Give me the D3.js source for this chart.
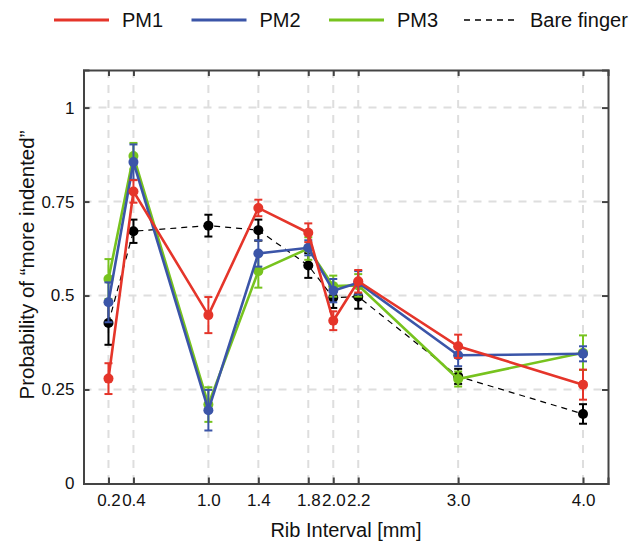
<!DOCTYPE html>
<html>
<head>
<meta charset="utf-8">
<script src="https://cdn.jsdelivr.net/npm/d3@7"></script>
<style>
  body { margin: 0; background: #fff; }
  svg text { font-family: "Liberation Sans", Arial, sans-serif; fill: #111; }
</style>
</head>
<body>
<div id="chart"></div>
<script>
// rib intervals (mm)
const ribs = [0.2, 0.4, 1.0, 1.4, 1.8, 2.0, 2.2, 3.0, 4.0];
const xTickLabels = ["0.2", "0.4", "1.0", "1.4", "1.8", "2.0", "2.2", "3.0", "4.0"];
const yTicks = [0, 0.25, 0.5, 0.75, 1];
const yTickLabels = ["0", "0.25", "0.5", "0.75", "1"];

// probability of "more indented" and error (half-length of bars)
const pm1 = [0.279, 0.777, 0.448, 0.733, 0.667, 0.433, 0.538, 0.365, 0.263];
const pm1Err = [0.041, 0.03, 0.048, 0.022, 0.025, 0.025, 0.03, 0.031, 0.04];
const pm2 = [0.482, 0.855, 0.195, 0.612, 0.627, 0.513, 0.534, 0.341, 0.345];
const pm2Err = [0.053, 0.047, 0.054, 0.035, 0.02, 0.031, 0.031, 0.029, 0.02];
const pm3 = [0.544, 0.871, 0.21, 0.565, 0.625, 0.525, 0.527, 0.278, 0.348];
const pm3Err = [0.053, 0.035, 0.046, 0.044, 0.03, 0.028, 0.03, 0.02, 0.046];
const bare = [0.427, 0.671, 0.686, 0.674, 0.58, 0.494, 0.497, 0.285, 0.185];
const bareErr = [0.058, 0.031, 0.029, 0.028, 0.033, 0.027, 0.032, 0.02, 0.026];

const seriesNames = ["PM1", "PM2", "PM3", "Bare finger"];
const seriesColors = ["#e5352a", "#3b55a8", "#77c31e", "#000000"];

const width = 634, height = 541;
const margin = {top: 70, right: 26, bottom: 57.5, left: 83.5};
const innerW = width - margin.left - margin.right;
const innerH = height - margin.top - margin.bottom;

const svg = d3.select("#chart").append("svg")
    .attr("width", width)
    .attr("height", height);

const g = svg.append("g")
    .attr("transform", "translate(" + margin.left + "," + margin.top + ")");

const x = d3.scaleLinear().domain([0, 4.2]).range([0, innerW]);
const y = d3.scaleLinear().domain([0, 1.1]).range([innerH, 0]);

// grid
g.append("g").selectAll("line")
    .data(ribs).enter().append("line")
    .attr("x1", d => x(d)).attr("x2", d => x(d))
    .attr("y1", 0).attr("y2", innerH)
    .attr("stroke", "#dedede").attr("stroke-width", 2)
    .attr("stroke-dasharray", "8,7");
g.append("g").selectAll("line")
    .data(yTicks.slice(1)).enter().append("line")
    .attr("x1", 0).attr("x2", innerW)
    .attr("y1", d => y(d)).attr("y2", d => y(d))
    .attr("stroke", "#dedede").attr("stroke-width", 2)
    .attr("stroke-dasharray", "8,7");

// axes (ticks inside, mirrored on top/right)
const xAxis = g.append("g")
    .attr("transform", "translate(0," + innerH + ")")
    .call(d3.axisBottom(x).tickValues(ribs).tickSize(-6).tickPadding(14)
        .tickFormat((d, i) => xTickLabels[i]));
const yAxis = g.append("g")
    .call(d3.axisLeft(y).tickValues(yTicks).tickSize(-6).tickPadding(9)
        .tickFormat((d, i) => yTickLabels[i]));
const xTop = g.append("g")
    .call(d3.axisTop(x).tickValues(ribs).tickSize(-6).tickFormat(""));
const yRight = g.append("g")
    .attr("transform", "translate(" + innerW + ",0)")
    .call(d3.axisRight(y).tickValues(yTicks).tickSize(-6).tickFormat(""));

[xAxis, yAxis, xTop, yRight].forEach(a => {
    a.select(".domain").attr("stroke", "#444").attr("stroke-width", 2);
    a.selectAll(".tick line").attr("stroke", "#444").attr("stroke-width", 2);
    a.selectAll("text").style("font-size", "17px").attr("fill", "#111");
});
xAxis.selectAll("text").attr("dy", "0.5em");

// series
const allSeries = [
    {name: "Bare finger", vals: bare, err: bareErr, color: seriesColors[3], dashed: true},
    {name: "PM3", vals: pm3, err: pm3Err, color: seriesColors[2]},
    {name: "PM2", vals: pm2, err: pm2Err, color: seriesColors[1]},
    {name: "PM1", vals: pm1, err: pm1Err, color: seriesColors[0]}
];

const line = d3.line().x(d => x(d[0])).y(d => y(d[1]));

allSeries.forEach(s => {
    const pts = ribs.map((r, i) => [r, s.vals[i], s.err[i]]);
    const sg = g.append("g");
    sg.append("path")
        .datum(pts)
        .attr("d", line)
        .attr("fill", "none")
        .attr("stroke", s.color)
        .attr("stroke-width", s.dashed ? 1.2 : 2.6)
        .attr("stroke-dasharray", s.dashed ? "6,5" : null);
    const eb = sg.selectAll(".eb").data(pts).enter().append("g");
    eb.append("line")
        .attr("x1", d => x(d[0])).attr("x2", d => x(d[0]))
        .attr("y1", d => y(d[1] - d[2])).attr("y2", d => y(d[1] + d[2]))
        .attr("stroke", s.color).attr("stroke-width", 2);
    [-1, 1].forEach(sgn => {
        eb.append("line")
            .attr("x1", d => x(d[0]) - 4).attr("x2", d => x(d[0]) + 4)
            .attr("y1", d => y(d[1] + sgn * d[2])).attr("y2", d => y(d[1] + sgn * d[2]))
            .attr("stroke", s.color).attr("stroke-width", 2);
    });
    sg.selectAll("circle").data(pts).enter().append("circle")
        .attr("cx", d => x(d[0])).attr("cy", d => y(d[1]))
        .attr("r", 5)
        .attr("fill", s.color);
});

// axis titles
svg.append("text")
    .attr("x", 346)
    .attr("y", 530)
    .attr("dy", "0.35em")
    .attr("text-anchor", "middle")
    .style("font-size", "20px")
    .text("Rib Interval [mm]");
svg.append("text")
    .attr("transform", "translate(27,265) rotate(-90)")
    .attr("dy", "0.35em")
    .attr("text-anchor", "middle")
    .style("font-size", "20.5px")
    .text("Probability of \u201cmore indented\u201d");

// legend
const legendX = [54, 191.5, 329, 464];
const legend = svg.append("g");
seriesNames.forEach((name, i) => {
    const lg = legend.append("g").attr("transform", "translate(" + legendX[i] + ",20)");
    lg.append("line")
        .attr("x1", 0).attr("x2", i === 3 ? 52 : 55)
        .attr("y1", 0).attr("y2", 0)
        .attr("stroke", seriesColors[i])
        .attr("stroke-width", i === 3 ? 1.5 : 3)
        .attr("stroke-dasharray", i === 3 ? "6,5" : null);
    lg.append("text")
        .attr("x", i === 3 ? 66 : 68)
        .attr("y", 0)
        .attr("dy", "0.35em")
        .style("font-size", "20px")
        .text(name);
});
</script>
</body>
</html>
